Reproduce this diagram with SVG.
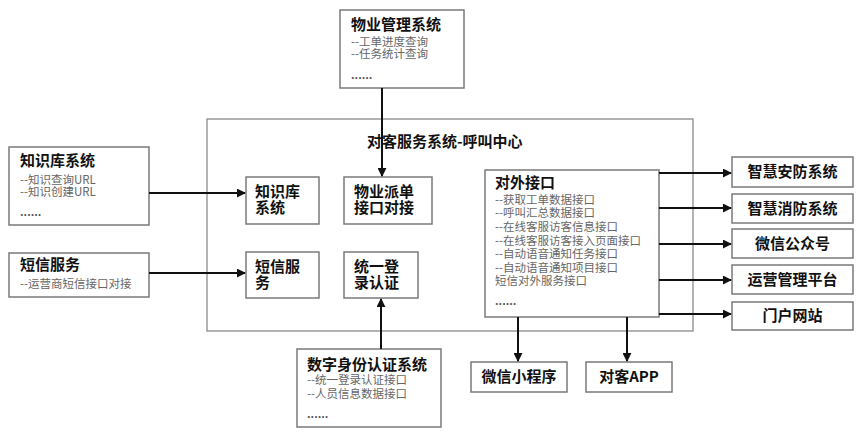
<svg xmlns="http://www.w3.org/2000/svg" width="865" height="437" viewBox="0 0 865 437">
<defs>
<style>
.box{fill:#fff;stroke:#7a7a7a;stroke-width:1.5}
.frame{fill:#fff;stroke:#8a8a8a;stroke-width:1.3}
.t{font-family:"Noto Sans CJK SC","Noto Sans",sans-serif;font-weight:bold;font-size:15px;fill:#111}
.s{font-family:"Noto Sans CJK SC","Noto Sans",sans-serif;font-size:11.5px;fill:#666}
.d{font-family:"Noto Sans CJK SC","Noto Sans",sans-serif;font-size:11px;fill:#555;font-weight:bold}
.c{text-anchor:middle}
.line{stroke:#111;stroke-width:2;fill:none}
</style>
<marker id="ah" viewBox="0 0 10 10" refX="9" refY="5" markerWidth="9" markerHeight="9" markerUnits="userSpaceOnUse" orient="auto">
<path d="M0,0 L10,5 L0,10 z" fill="#111"/>
</marker>
</defs>
<rect width="865" height="437" fill="#fff"/>

<g id="frame">
<rect class="frame" x="207" y="119" width="486" height="212"/>
<text class="t" x="367" y="147">对客服务系统-呼叫中心</text>
</g>

<g id="wuye-mgmt">
<rect class="box" x="340" y="10" width="124" height="78"/>
<text class="t" x="351" y="30">物业管理系统</text>
<text class="s" x="351" y="46">--工单进度查询</text>
<text class="s" x="351" y="58">--任务统计查询</text>
<text class="d" x="351" y="79">......</text>
</g>

<g id="zhishiku">
<rect class="box" x="9" y="147" width="140" height="78"/>
<text class="t" x="20" y="166">知识库系统</text>
<text class="s" x="20" y="184">--知识查询URL</text>
<text class="s" x="20" y="196">--知识创建URL</text>
<text class="d" x="20" y="216">......</text>
</g>

<g id="duanxin">
<rect class="box" x="9" y="253" width="140" height="44"/>
<text class="t" x="20" y="270">短信服务</text>
<text class="s" x="20" y="288">--运营商短信接口对接</text>
</g>

<g id="inner-zhishiku">
<rect class="box" x="246" y="177" width="73" height="47"/>
<text class="t" x="255" y="197">知识库</text>
<text class="t" x="255" y="213">系统</text>
</g>

<g id="inner-paidan">
<rect class="box" x="344" y="177" width="88" height="47"/>
<text class="t" x="354" y="197">物业派单</text>
<text class="t" x="354" y="213">接口对接</text>
</g>

<g id="inner-duanxin">
<rect class="box" x="246" y="252" width="73" height="46"/>
<text class="t" x="255" y="272">短信服</text>
<text class="t" x="255" y="288">务</text>
</g>

<g id="inner-login">
<rect class="box" x="344" y="252" width="74" height="46"/>
<text class="t" x="354" y="272">统一登</text>
<text class="t" x="354" y="288">录认证</text>
</g>

<g id="duiwai">
<rect class="box" x="485" y="170" width="174" height="147"/>
<text class="t" x="495" y="188">对外接口</text>
<text class="s" x="495" y="204">--获取工单数据接口</text>
<text class="s" x="495" y="217">--呼叫汇总数据接口</text>
<text class="s" x="495" y="231">--在线客服访客信息接口</text>
<text class="s" x="495" y="245">--在线客服访客接入页面接口</text>
<text class="s" x="495" y="258">--自动语音通知任务接口</text>
<text class="s" x="495" y="272">--自动语音通知项目接口</text>
<text class="s" x="495" y="285">短信对外服务接口</text>
<text class="d" x="495" y="305">......</text>
</g>

<g id="shuzi">
<rect class="box" x="297" y="349" width="144" height="78"/>
<text class="t" x="307" y="370">数字身份认证系统</text>
<text class="s" x="307" y="384">--统一登录认证接口</text>
<text class="s" x="307" y="398">--人员信息数据接口</text>
<text class="d" x="307" y="418">......</text>
</g>

<g id="anfang">
<rect class="box" x="732" y="157" width="121" height="30"/>
<text class="t c" x="792.5" y="177">智慧安防系统</text>
</g>
<g id="xiaofang">
<rect class="box" x="732" y="194" width="121" height="29"/>
<text class="t c" x="792.5" y="213.5">智慧消防系统</text>
</g>
<g id="gongzhonghao">
<rect class="box" x="732" y="229" width="121" height="29"/>
<text class="t c" x="792.5" y="248.5">微信公众号</text>
</g>
<g id="yunying">
<rect class="box" x="732" y="265" width="121" height="29"/>
<text class="t c" x="792.5" y="284.5">运营管理平台</text>
</g>
<g id="menhu">
<rect class="box" x="732" y="302" width="121" height="28"/>
<text class="t c" x="792.5" y="321">门户网站</text>
</g>

<g id="xiaochengxu">
<rect class="box" x="471" y="362" width="96" height="30"/>
<text class="t c" x="519" y="382">微信小程序</text>
</g>
<g id="app">
<rect class="box" x="586" y="362" width="86" height="30"/>
<text class="t c" x="629" y="382">对客APP</text>
</g>

<g id="connectors">
<line class="line" x1="382" y1="88" x2="382" y2="176" marker-end="url(#ah)"/>
<line class="line" x1="149" y1="193" x2="245" y2="193" marker-end="url(#ah)"/>
<line class="line" x1="149" y1="273" x2="245" y2="273" marker-end="url(#ah)"/>
<line class="line" x1="381" y1="349" x2="381" y2="299" marker-end="url(#ah)"/>
<line class="line" x1="659" y1="173" x2="731" y2="173" marker-end="url(#ah)"/>
<line class="line" x1="659" y1="208" x2="731" y2="208" marker-end="url(#ah)"/>
<line class="line" x1="659" y1="244" x2="731" y2="244" marker-end="url(#ah)"/>
<line class="line" x1="659" y1="280" x2="731" y2="280" marker-end="url(#ah)"/>
<line class="line" x1="659" y1="314" x2="731" y2="314" marker-end="url(#ah)"/>
<line class="line" x1="518" y1="317" x2="518" y2="361" marker-end="url(#ah)"/>
<line class="line" x1="627" y1="317" x2="627" y2="361" marker-end="url(#ah)"/>
</g>
</svg>
